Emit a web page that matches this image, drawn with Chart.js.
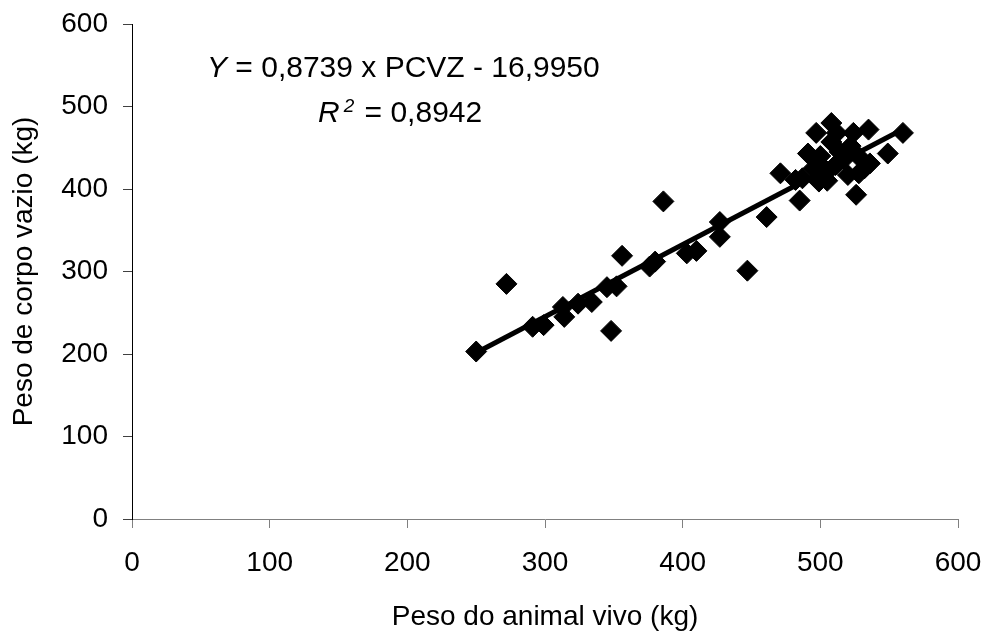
<!DOCTYPE html>
<html>
<head>
<meta charset="utf-8">
<script src="https://cdn.jsdelivr.net/npm/chart.js@4/dist/chart.umd.min.js"></script>
<style>
  html, body { margin: 0; padding: 0; background: #fff; }
  #wrap { width: 985px; height: 634px; position: relative; }
</style>
</head>
<body>
<div id="wrap"><canvas id="c" width="985" height="634"></canvas></div>
<script>
// Observed data: live weight (kg) vs empty body weight (kg)
const pesoVivo = [250, 272, 291, 299, 313, 314, 324, 334, 345, 352, 348, 356, 376, 380, 386, 403, 410, 427, 427, 447,
  461, 471, 485, 482, 487, 491, 497, 508, 524, 535, 549, 560, 526, 499, 499, 505, 508, 511, 514, 520,
  528, 528, 536, 500, 517, 505, 495, 532, 522, 512];
const pesoCorpoVazio = [203, 285, 233, 235, 257, 245, 261, 263, 281, 282, 228, 319, 306, 312, 385, 322, 325, 342, 360, 301,
  366, 419, 386, 411, 413, 443, 468, 480, 468, 472, 443, 468, 393, 409, 431, 421, 457, 429, 445, 417,
  419, 439, 431, 440, 436, 410, 425, 425, 452, 468];
// Regression line
const slope = 0.8739;
const intercept = -16.9950;
const lineX = [250, 560];
const xTicks = [0, 100, 200, 300, 400, 500, 600];
const yTicks = [0, 100, 200, 300, 400, 500, 600];

const points = pesoVivo.map((x, i) => ({ x: x, y: pesoCorpoVazio[i] }));
const linePts = lineX.map(x => ({ x: x, y: slope * x + intercept }));

const FONT = '"Liberation Sans", Arial, sans-serif';

const annotation = {
  id: 'annotation',
  afterDraw(chart) {
    const ctx = chart.ctx;
    ctx.save();
    ctx.fillStyle = '#000';
    ctx.textBaseline = 'alphabetic';
    ctx.textAlign = 'left';
    // line 1
    let x = 207, y = 77;
    ctx.font = 'italic 30px ' + FONT;
    ctx.fillText('Y', x, y);
    x += ctx.measureText('Y').width;
    ctx.font = '30px ' + FONT;
    ctx.fillText(' = 0,8739 x PCVZ - 16,9950', x, y);
    // line 2
    x = 318; y = 122;
    ctx.font = 'italic 30px ' + FONT;
    ctx.fillText('R', x, y);
    x += ctx.measureText('R').width + 4;
    ctx.font = 'italic 19px ' + FONT;
    ctx.fillText('2', x, y - 10);
    x += ctx.measureText('2').width + 2;
    ctx.font = '30px ' + FONT;
    ctx.fillText(' = 0,8942', x, y);
    ctx.restore();
  }
};

new Chart(document.getElementById('c'), {
  type: 'scatter',
  data: {
    datasets: [
      {
        type: 'line',
        data: linePts,
        borderColor: '#000',
        borderWidth: 5,
        pointRadius: 0,
        fill: false,
        order: 2
      },
      {
        data: points,
        pointStyle: 'rectRot',
        pointRadius: 10.5,
        pointBackgroundColor: '#000',
        pointBorderColor: '#000',
        pointBorderWidth: 1,
        order: 1
      }
    ]
  },
  options: {
    responsive: false,
    animation: false,
    events: [],
    layout: { padding: { left: 0, top: 24, right: 27, bottom: 0 } },
    plugins: { legend: { display: false }, tooltip: { enabled: false } },
    scales: {
      x: {
        type: 'linear',
        min: 0, max: 600,
        afterBuildTicks: s => { s.ticks = xTicks.map(v => ({ value: v })); },
        afterFit: s => { s.height = 115; s.paddingLeft = 0; s.paddingRight = 0; },
        grid: { drawOnChartArea: false, drawTicks: true, tickLength: 9, tickColor: '#808080', tickWidth: 1 },
        border: { display: true, color: '#808080', width: 1 },
        ticks: { color: '#000', font: { family: FONT, size: 28 }, padding: 18, maxRotation: 0 },
        title: { display: true, text: 'Peso do animal vivo (kg)', color: '#000', font: { family: FONT, size: 28 }, padding: { top: 22, bottom: 0 } }
      },
      y: {
        type: 'linear',
        min: 0, max: 600,
        afterBuildTicks: s => { s.ticks = yTicks.map(v => ({ value: v })); },
        afterFit: s => { s.width = 132; s.paddingTop = 0; s.paddingBottom = 0; },
        grid: { drawOnChartArea: false, drawTicks: true, tickLength: 9, tickColor: '#404040', tickWidth: 1 },
        border: { display: true, color: '#000', width: 1 },
        ticks: { color: '#000', font: { family: FONT, size: 28 }, padding: 15 },
        title: { display: true, text: 'Peso de corpo vazio (kg)', color: '#000', font: { family: FONT, size: 28 }, padding: { top: 7, bottom: 0 } }
      }
    }
  },
  plugins: [annotation]
});
</script>
</body>
</html>
